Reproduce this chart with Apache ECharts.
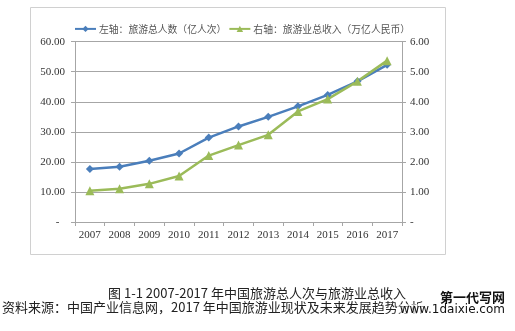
<!DOCTYPE html>
<html><head><meta charset="utf-8">
<script src="https://cdn.jsdelivr.net/npm/echarts@6/dist/echarts.min.js"></script>
<style>html,body{margin:0;padding:0;background:#fff}#c{width:515px;height:331px}</style>
</head><body><div id="c"></div>
<script>
var years = ['2007','2008','2009','2010','2011','2012','2013','2014','2015','2016','2017'];
var visitors = [17.6, 18.4, 20.4, 22.8, 28.1, 31.8, 35.0, 38.5, 42.3, 46.8, 52.3];
var revenue = [1.04, 1.11, 1.27, 1.53, 2.21, 2.56, 2.90, 3.68, 4.09, 4.68, 5.37];
var name1 = '左轴：旅游总人数（亿人次）';
var name2 = '右轴：旅游业总收入（万亿人民币）';
var caption = '图 1-1 2007-2017 年中国旅游总人次与旅游业总收入';
var source = '资料来源：中国产业信息网，2017 年中国旅游业现状及未来发展趋势分析';

var chart = echarts.init(document.getElementById('c'), null, {renderer:'canvas'});
var serif = '"Liberation Serif", "Noto Sans CJK SC", serif';
var gridColor = '#a6a6a6';
chart.setOption({
  animation: false,
  backgroundColor: '#fff',
  grid: {left: 75, right: 113, top: 41.7, bottom: 109, containLabel: false},
  legend: {
    left: 69, top: 19, itemWidth: 21, itemHeight: 8, itemGap: 2,
    textStyle: {fontFamily: '"Noto Sans CJK SC", sans-serif', fontSize: 9.8, color: '#555', padding: [0,0,0,-2]},
    data: [name1, name2]
  },
  xAxis: {
    type: 'category', data: years, boundaryGap: true,
    axisLine: {lineStyle: {color: gridColor, width: 1}},
    axisTick: {show: true, length: 4, lineStyle: {color: gridColor}},
    axisLabel: {fontFamily: serif, fontSize: 11, color: '#333', margin: 8}
  },
  yAxis: [{
    type: 'value', min: 0, max: 60, interval: 10,
    axisLine: {show: true, lineStyle: {color: gridColor}},
    axisTick: {show: true, length: 4, lineStyle: {color: gridColor}},
    splitLine: {lineStyle: {color: gridColor, width: 1}},
    axisLabel: {fontFamily: serif, fontSize: 11, color: '#333', margin: 10,
      formatter: function(v){ return v === 0 ? '-  ' : v.toFixed(2); }}
  }, {
    type: 'value', min: 0, max: 6, interval: 1, position: 'right',
    axisLine: {show: true, lineStyle: {color: gridColor}},
    axisTick: {show: true, length: 4, lineStyle: {color: gridColor}},
    splitLine: {show: false},
    axisLabel: {fontFamily: serif, fontSize: 11, color: '#333', margin: 8,
      formatter: function(v){ return v === 0 ? '-' : v.toFixed(2); }}
  }],
  series: [{
    name: name1, type: 'line', yAxisIndex: 0, data: visitors,
    symbol: 'diamond', symbolSize: 8,
    lineStyle: {color: '#4a7ebb', width: 2.5},
    itemStyle: {color: '#4a7ebb'}
  }, {
    name: name2, type: 'line', yAxisIndex: 1, data: revenue,
    symbol: 'triangle', symbolSize: 9,
    lineStyle: {color: '#9bbb59', width: 2.5},
    itemStyle: {color: '#9bbb59'}
  }],
  graphic: [
    {type: 'rect', shape: {x: 30.5, y: 7.5, width: 415, height: 247}, style: {fill: 'none', stroke: '#d0d0d0', lineWidth: 1}, z: -1},
    {type: 'text', x: 257, y: 287, style: {text: caption, fontFamily: '"Noto Sans CJK SC", sans-serif', fontSize: 13, fill: '#222', align: 'center'}},
    {type: 'text', x: 2, y: 301, style: {text: source, fontFamily: '"Noto Sans CJK SC", sans-serif', fontSize: 13, fill: '#222', align: 'left'}},
    {type: 'text', x: 505, y: 291, style: {text: '第一代写网', fontFamily: '"Noto Sans CJK SC", sans-serif', fontSize: 13, fontWeight: 'bold', fill: '#111', align: 'right'}},
    {type: 'text', x: 505, y: 304, style: {text: 'www.1daixie.com', fontFamily: '"DejaVu Sans", sans-serif', fontSize: 12, fill: '#111', align: 'right', backgroundColor: 'rgba(255,255,255,0.6)'}}
  ]
});
</script></body></html>
